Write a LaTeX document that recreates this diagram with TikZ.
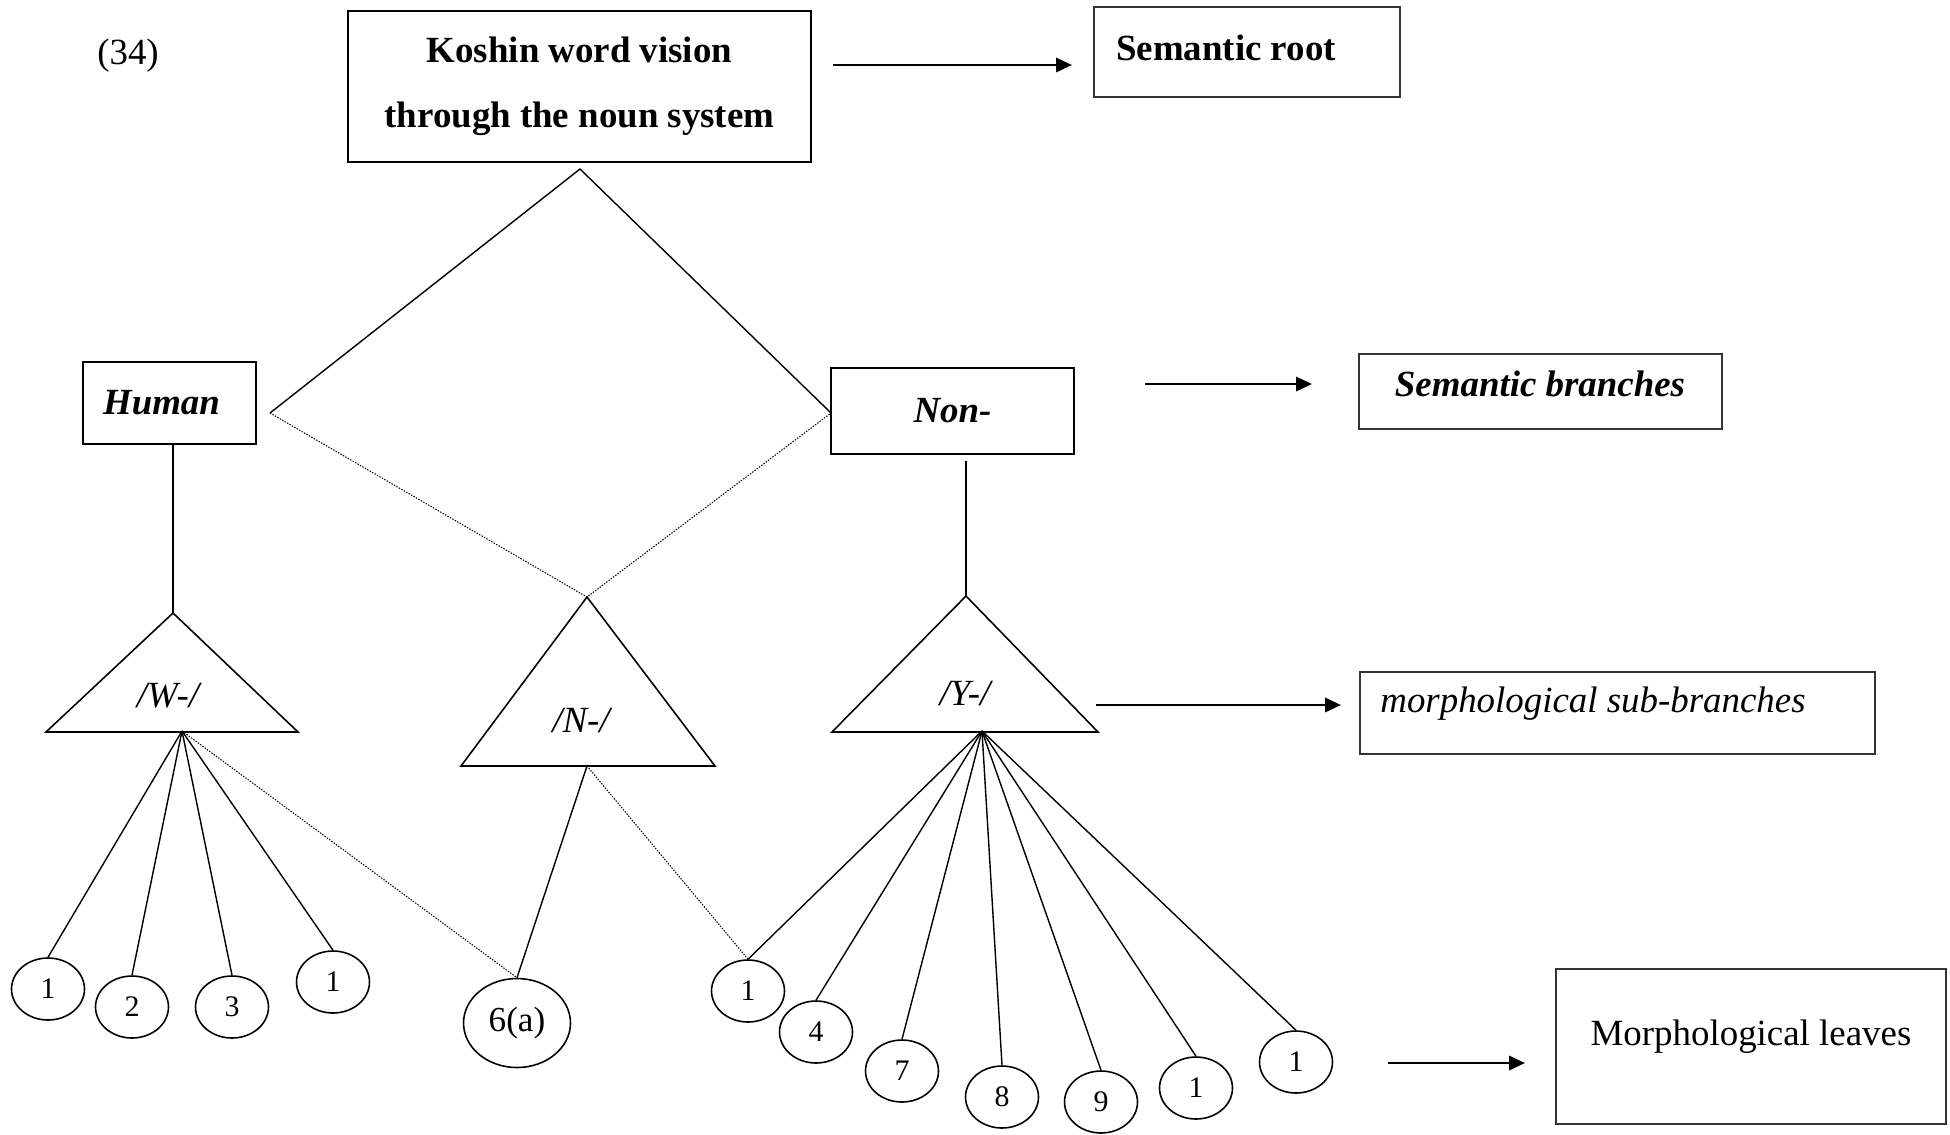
\documentclass[tikz,border=0pt]{standalone}
\usepackage{fontspec}
\setmainfont{Liberation Serif}
\usetikzlibrary{shapes.geometric,arrows.meta}
\begin{document}
\begin{tikzpicture}[x=0.02cm,y=-0.02cm,
  every node/.style={font=\fontsize{21}{25}\selectfont, inner sep=0pt},
  box/.style={draw, line width=0.9pt, rectangle},
  lbox/.style={draw=black!80, line width=0.8pt, rectangle},
  leaf/.style={draw, ellipse, line width=0.9pt, minimum width=1.46cm, minimum height=1.24cm, font=\fontsize{17}{20}\selectfont},
  edge/.style={line width=0.8pt},
  dotline/.style={line width=0.6pt, dash pattern=on 0.8pt off 0.8pt},
  arr/.style={line width=1.6pt, -{Triangle[length=9pt,width=8pt]}},
  tri/.style={draw, line width=0.9pt, line join=miter}
]
\useasboundingbox (0,0) rectangle (1950,1134);

% top
\node (num) at (128,56) {(34)};
\node[box, minimum width=9.26cm, minimum height=3.02cm, align=center,
      font=\fontsize{21}{37}\selectfont\bfseries] (root) at (579.5,86.5)
      {Koshin word vision\\through the noun system};
\node[lbox, minimum width=6.12cm, minimum height=1.8cm] (srbox) at (1247,52) {};
\node[font=\fontsize{21}{25}\selectfont\bfseries] (srtext) at (1226,48) {Semantic root};

% semantic branches
\node[box, minimum width=3.46cm, minimum height=1.64cm] (human) at (169.5,403) {};
\node[font=\fontsize{21}{25}\selectfont\bfseries\itshape] (humantext) at (161.5,403) {Human};
\node[box, minimum width=4.86cm, minimum height=1.72cm,
      font=\fontsize{21}{25}\selectfont\bfseries\itshape] (non) at (952.5,411) {Non-};
\node[lbox, minimum width=7.26cm, minimum height=1.5cm] (sbbox) at (1540.5,391.5) {};
\node[font=\fontsize{21}{25}\selectfont\bfseries\itshape] (sbtext) at (1540,384) {Semantic branches};

% morphological sub-branches
\node[lbox, minimum width=10.3cm, minimum height=1.64cm] (msbox) at (1617.5,713) {};
\node[anchor=west, font=\fontsize{21}{25}\selectfont\itshape] (mstext) at (1380,704) {morphological sub-branches};

% morphological leaves
\node[lbox, minimum width=7.8cm, minimum height=3.1cm] (mlbox) at (1751,1046.5) {};
\node (mltext) at (1751,1037) {Morphological leaves};

% arrows
\coordinate (a1s) at (833,65);   \coordinate (a1e) at (1072,65);
\coordinate (a2s) at (1145,384); \coordinate (a2e) at (1312,384);
\coordinate (a3s) at (1096,705); \coordinate (a3e) at (1341,705);
\coordinate (a4s) at (1388,1063);\coordinate (a4e) at (1525,1063);
\draw[arr] (a1s) -- (a1e);
\draw[arr] (a2s) -- (a2e);
\draw[arr] (a3s) -- (a3e);
\draw[arr] (a4s) -- (a4e);

% diamond
\coordinate (dtop) at (580,169);
\coordinate (dleft) at (270,413);
\coordinate (dright) at (831,413);
\coordinate (napex) at (587,597);
\draw[edge] (dleft) -- (dtop) -- (dright);
\draw[dotline] (dleft) -- (napex) -- (dright);

% triangles
\coordinate (wapex) at (173,613);
\coordinate (wbl) at (46,732);
\coordinate (wbr) at (298,732);
\coordinate (nbl) at (461,766);
\coordinate (nbr) at (715,766);
\coordinate (yapex) at (966,596);
\coordinate (ybl) at (832,732);
\coordinate (ybr) at (1098,732);
\draw[tri] (wapex) -- (wbr) -- (wbl) -- cycle;
\draw[tri] (napex) -- (nbr) -- (nbl) -- cycle;
\draw[tri] (yapex) -- (ybr) -- (ybl) -- cycle;
\node[font=\fontsize{21}{25}\selectfont\itshape] (wlab) at (168,696) {/W-/};
\node[font=\fontsize{21}{25}\selectfont\itshape] (nlab) at (581,721) {/N-/};
\node[font=\fontsize{21}{25}\selectfont\itshape] (ylab) at (965,694) {/Y-/};

\draw[edge] (wapex |- human.south) -- (wapex);
\draw[edge] (yapex |- non.south) ++(0,6) -- (yapex);

% fan points
\coordinate (wfan) at (182,731);
\coordinate (nfan) at (587,766);
\coordinate (yfan) at (982,731);

% leaves
\node[leaf] (c1a) at (48,989) {1};
\node[leaf] (c2) at (132,1007) {2};
\node[leaf] (c3) at (232,1007) {3};
\node[leaf] (c1b) at (333,982) {1};
\node[leaf, minimum width=2.14cm, minimum height=1.78cm, font=\fontsize{20}{24}\selectfont] (c6a) at (517,1023) {6(a)};
\node[leaf] (c1c) at (748,991) {1};
\node[leaf] (c4) at (816,1032) {4};
\node[leaf] (c7) at (902,1071) {7};
\node[leaf] (c8) at (1002,1097) {8};
\node[leaf] (c9) at (1101,1102) {9};
\node[leaf] (c1d) at (1196,1088) {1};
\node[leaf] (c1e) at (1296,1062) {1};

\foreach \c in {c1a,c2,c3,c1b} \draw[edge] (wfan) -- (\c.north);
\draw[dotline] (wfan) -- (c6a.north);
\draw[edge] (nfan) -- (c6a.north);
\draw[dotline] (nfan) -- (c1c.north);
\foreach \c in {c1c,c4,c7,c8,c9,c1d,c1e} \draw[edge] (yfan) -- (\c.north);

\end{tikzpicture}
\end{document}
